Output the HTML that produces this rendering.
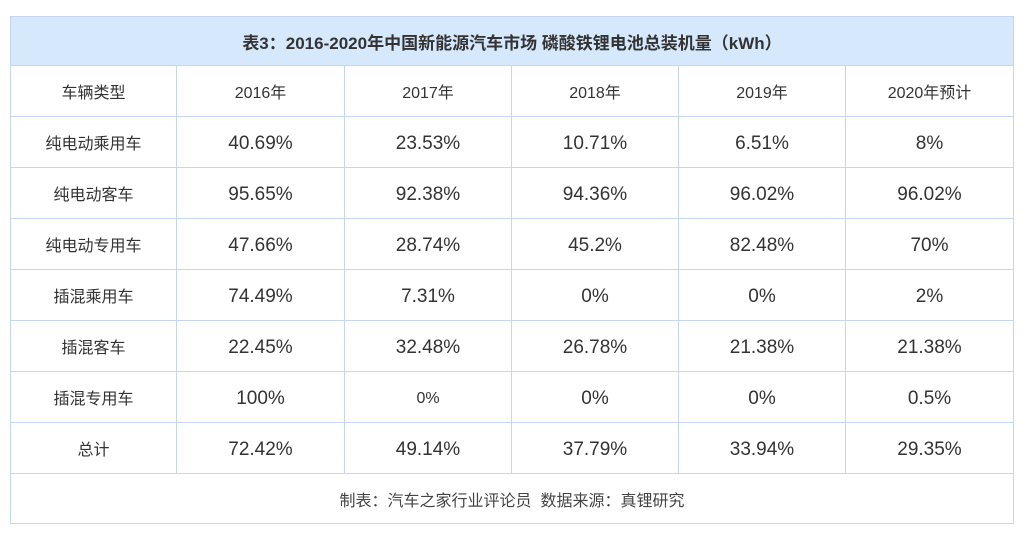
<!DOCTYPE html>
<html><head><meta charset="utf-8"><style>
body{margin:0;width:1036px;height:544px;background:#fff;position:relative;font-family:"Liberation Sans","Noto Sans CJK SC",sans-serif;color:#333;overflow:hidden}
.c{position:absolute;box-sizing:border-box;display:flex;align-items:center;justify-content:center;border-right:1px solid #c6d6f2;border-bottom:1px solid #c6d6f2}
.l{font-size:16px}.n{font-size:19px;padding-top:3px}
</style></head><body>
<div style="position:absolute;left:10px;top:16px;width:1004px;height:508px;border-left:1px solid #c6d6f2;border-top:1px solid #c6d6f2;box-sizing:border-box"></div>
<div id="t"></div>
<script>
var X=[10,177,345,512,679,846,1014],Y=[16,66,117,168,219,270,321,372,423,474,524];
var h='';
function cell(x1,x2,y1,y2,txt,cls,st){h+='<div class="c '+cls+'" style="left:'+x1+'px;top:'+y1+'px;width:'+(x2-x1)+'px;height:'+(y2-y1)+'px;'+(st||'')+'">'+txt+'</div>';}
cell(10,1014,16,66,'表3：2016-2020年中国新能源汽车市场 磷酸铁锂电池总装机量（kWh）','l','background:#d6e8fc;font-weight:bold;font-size:17px;color:#333;border-left:1px solid #c6d6f2;border-top:1px solid #c6d6f2');
var rows=[['车辆类型','2016年','2017年','2018年','2019年','2020年预计'],
['纯电动乘用车','40.69%','23.53%','10.71%','6.51%','8%'],
['纯电动客车','95.65%','92.38%','94.36%','96.02%','96.02%'],
['纯电动专用车','47.66%','28.74%','45.2%','82.48%','70%'],
['插混乘用车','74.49%','7.31%','0%','0%','2%'],
['插混客车','22.45%','32.48%','26.78%','21.38%','21.38%'],
['插混专用车','100%','<span style="font-size:16px">0%</span>','0%','0%','0.5%'],
['总计','72.42%','49.14%','37.79%','33.94%','29.35%']];
for(var r=0;r<rows.length;r++)for(var c=0;c<6;c++){
 var cls=(r==0||c==0)?'l':'n';
 cell(X[c],X[c+1],Y[r+1],Y[r+2],rows[r][c],cls,c==0?'border-left:1px solid #c6d6f2':'');}
cell(10,1014,474,524,'制表：汽车之家行业评论员&nbsp; 数据来源：真锂研究','l','font-size:16px;color:#444;border-left:1px solid #c6d6f2');
document.getElementById('t').innerHTML=h;
</script>
</body></html>
